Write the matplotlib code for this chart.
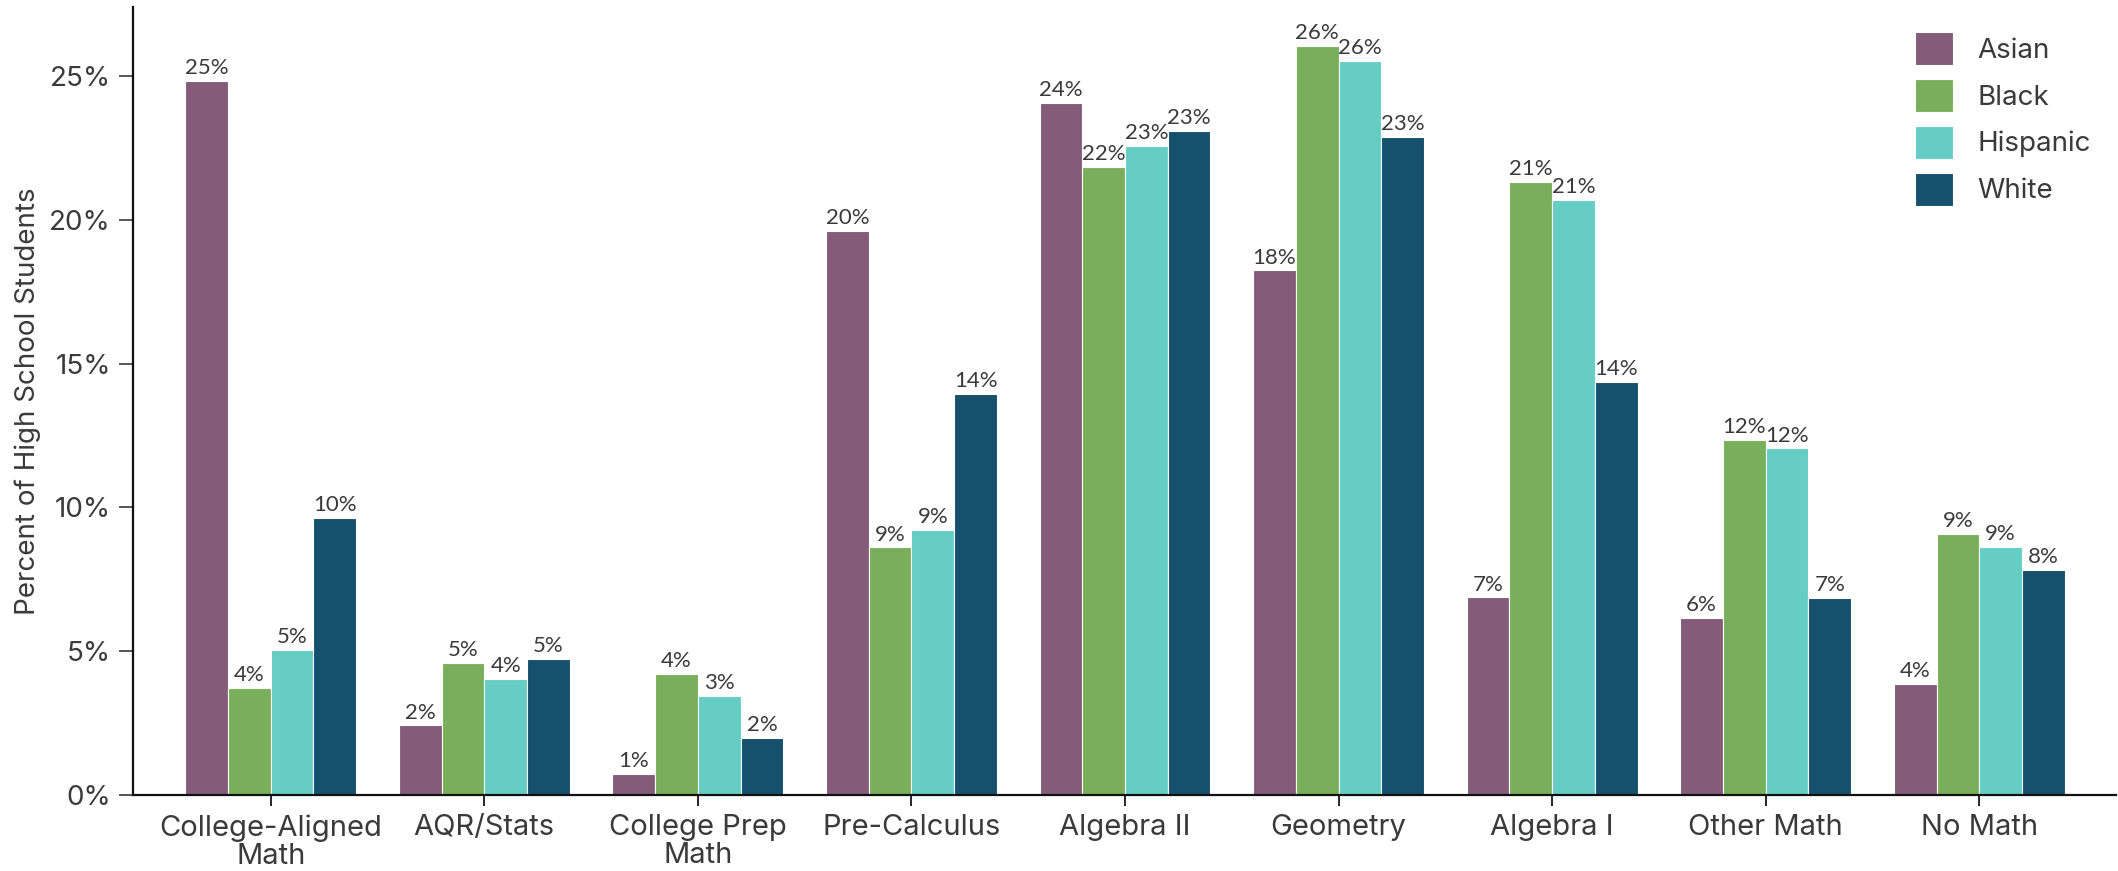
import matplotlib.pyplot as plt
import numpy as np
from matplotlib.ticker import FuncFormatter

courses = ["College-Aligned\nMath", "AQR/Stats", "College Prep\nMath", "Pre-Calculus",
           "Algebra II", "Geometry", "Algebra I", "Other Math", "No Math"]
groups = ["Asian", "Black", "Hispanic", "White"]

asian = [24.83, 2.42, 0.73, 19.62, 24.05, 18.24, 6.87, 6.16, 3.86]
black = [3.73, 4.60, 4.20, 8.61, 21.83, 26.05, 21.33, 12.34, 9.08]
hispanic = [5.03, 4.04, 3.45, 9.22, 22.58, 25.52, 20.70, 12.05, 8.64]
white = [9.62, 4.72, 1.98, 13.94, 23.09, 22.89, 14.35, 6.86, 7.84]

colors = ["#845C7A", "#79AF5A", "#65CDC4", "#15506E"]
text_color = "#3a3a3a"

plt.rcParams["font.family"] = ["Inter", "DejaVu Sans"]

fig = plt.figure(figsize=(21.18, 8.71), dpi=100)
ax = fig.add_axes([133 / 2118, 1 - 795 / 871, (2116 - 133) / 2118, (795 - 7) / 871])

x = np.arange(len(courses))
width = 0.2
series = [asian, black, hispanic, white]
for i, (name, vals, col) in enumerate(zip(groups, series, colors)):
    pos = x + (i - 1.5) * width
    bars = ax.bar(pos, vals, width, color=col, label=name, edgecolor="white", linewidth=0.8)
    for b, v in zip(bars, vals):
        ax.text(b.get_x() + b.get_width() / 2, v + 0.1, f"{v:.0f}%",
                ha="center", va="bottom", fontsize=16, color=text_color, family="Lato")

ax.set_xlim(-0.645, 8.64)
ax.set_ylim(0, 27.4)
ax.set_xticks(x)
ax.set_xticklabels(courses, fontsize=21, color=text_color, linespacing=1.05)
ax.set_yticks([0, 5, 10, 15, 20, 25])
ax.yaxis.set_major_formatter(FuncFormatter(lambda v, _: f"{v:.0f}%"))
ax.tick_params(axis="y", labelsize=20, colors=text_color, length=10, width=1.2, pad=6)
ax.tick_params(axis="x", length=8, width=1.2, pad=6)
ax.set_ylabel("Percent of High School Students", fontsize=20, color=text_color, labelpad=6)

for s in ["top", "right"]:
    ax.spines[s].set_visible(False)
for s in ["left", "bottom"]:
    ax.spines[s].set_linewidth(1.6)
    ax.spines[s].set_color("#111111")

leg = ax.legend(loc="upper right", bbox_to_anchor=(1.0, 1.0), frameon=False,
                fontsize=20, handlelength=1.35, handleheight=1.45, labelspacing=0.5,
                handletextpad=0.9)
for t in leg.get_texts():
    t.set_color(text_color)

fig.savefig("out.png", dpi=100)
